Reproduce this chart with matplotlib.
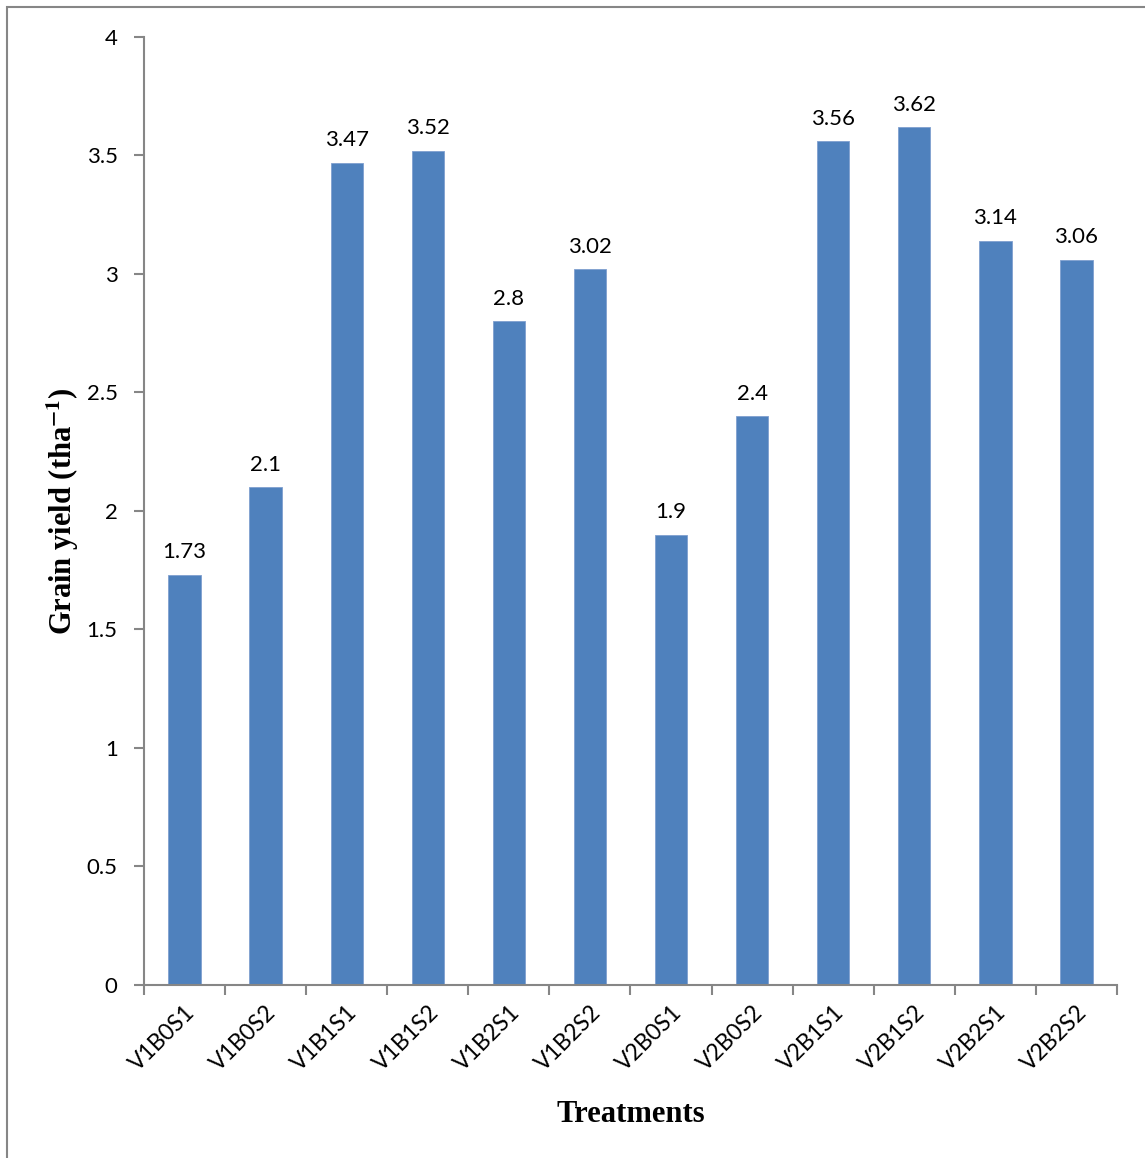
import matplotlib
matplotlib.use('Agg')
import matplotlib.pyplot as plt
import numpy as np
from matplotlib.patches import Rectangle

# Rendimento de grao por tratamento
tratamentos = ['V1B0S1', 'V1B0S2', 'V1B1S1', 'V1B1S2', 'V1B2S1', 'V1B2S2',
               'V2B0S1', 'V2B0S2', 'V2B1S1', 'V2B1S2', 'V2B2S1', 'V2B2S2']
rendimento = [1.73, 2.1, 3.47, 3.52, 2.8, 3.02, 1.9, 2.4, 3.56, 3.62, 3.14, 3.06]
rotulos = ['1.73', '2.1', '3.47', '3.52', '2.8', '3.02', '1.9', '2.4', '3.56', '3.62', '3.14', '3.06']
yticks = [0, 0.5, 1, 1.5, 2, 2.5, 3, 3.5, 4]
yticklabels = ['0', '0.5', '1', '1.5', '2', '2.5', '3', '3.5', '4']

cinza = '#868686'
azul = '#4F81BD'
fonte = 'Lato'

plt.rcParams['mathtext.fontset'] = 'stix'

fig = plt.figure(figsize=(11.45, 11.58), dpi=100)
ax = fig.add_axes([0.1258, 0.1494, 0.8497, 0.8187])

# moldura do grafico
fig.patches.append(Rectangle((7 / 1145, -0.01), 1.05, 1 - 7 / 1158 + 0.01,
                             transform=fig.transFigure, fill=False,
                             edgecolor=cinza, lw=1.5))

x = np.arange(len(tratamentos))
ax.bar(x, rendimento, width=0.4, color=azul, edgecolor='#7f9fcf', lw=0.6, zorder=2)

for xi, v, r in zip(x, rendimento, rotulos):
    ax.annotate(r, (xi, v), xytext=(0, 9), textcoords='offset points',
                ha='center', va='bottom', fontsize=16, family=fonte)

ax.set_xlim(-0.5, len(tratamentos) - 0.5)
ax.set_ylim(0, 4)
ax.set_yticks(yticks)
ax.set_yticklabels(yticklabels, fontsize=16, family=fonte)

# marcas entre as categorias, rotulos no centro
ax.set_xticks(np.arange(-0.5, len(tratamentos)), minor=False)
ax.set_xticklabels([])
ax.set_xticks(x, minor=True)
ax.set_xticklabels(tratamentos, minor=True, rotation=45, ha='right',
                   rotation_mode='anchor', fontsize=16.5, family=fonte)
ax.tick_params(axis='x', which='minor', length=0, pad=12)
ax.tick_params(axis='x', which='major', length=7, width=1.5, color=cinza)
ax.tick_params(axis='y', length=7, width=1.5, color=cinza, pad=12)

for lado in ['top', 'right']:
    ax.spines[lado].set_visible(False)
for lado in ['left', 'bottom']:
    ax.spines[lado].set_color(cinza)
    ax.spines[lado].set_linewidth(1.5)

ax.set_ylabel(r'Grain yield (tha$^{\mathbf{-1}}$)', fontsize=22, fontweight='bold',
              family='Liberation Serif', labelpad=4)
ax.set_xlabel('Treatments', fontsize=22, fontweight='bold',
              family='Liberation Serif', labelpad=18)

fig.savefig('out.png', dpi=100)
